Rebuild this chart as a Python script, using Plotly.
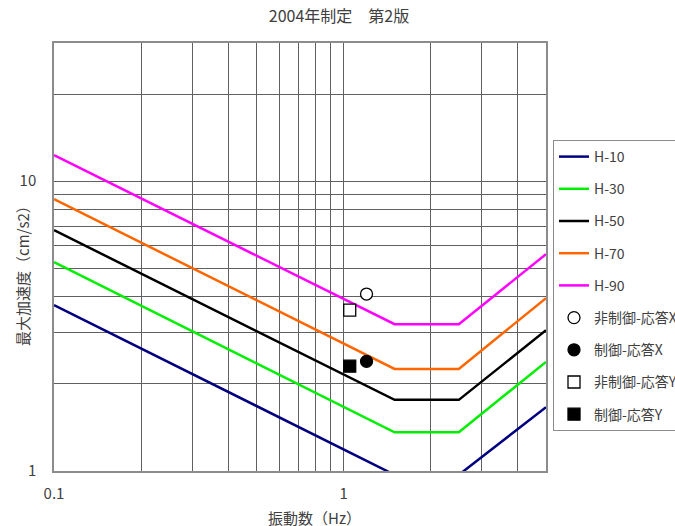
import plotly.graph_objects as go

freq = [0.1, 1.5, 2.5, 5.0]
h10 = [3.74, 0.97, 0.97, 1.66]
h30 = [5.26, 1.36, 1.36, 2.38]
h50 = [6.78, 1.76, 1.76, 3.06]
h70 = [8.67, 2.25, 2.25, 3.95]
h90 = [12.3, 3.21, 3.21, 5.6]

pt_names = ["非制御-応答X", "制御-応答X", "非制御-応答Y", "制御-応答Y"]
pt_freq = [1.20, 1.20, 1.05, 1.05]
pt_acc = [4.08, 2.39, 3.59, 2.30]

x_ticks = [0.1, 0.2, 0.3, 0.4, 0.5, 0.6, 0.7, 0.8, 0.9, 1, 2, 3, 4, 5]
x_text = ["0.1", "", "", "", "", "", "", "", "", "1", "", "", "", ""]
y_ticks = [1, 2, 3, 4, 5, 6, 7, 8, 9, 10, 20, 30]
y_text = ["1", "", "", "", "", "", "", "", "", "10", "", ""]

FONT = "Noto Sans CJK JP"
TXT = "#404040"

fig = go.Figure()
lines = [("H-10", h10, "#000080"), ("H-30", h30, "#00ee00"), ("H-50", h50, "#000000"),
         ("H-70", h70, "#ff6600"), ("H-90", h90, "#ff00ff")]
for nm, vals, col in lines:
    fig.add_trace(go.Scatter(x=freq, y=vals, mode="lines", name=nm, legendgroup=nm,
                             line=dict(color=col, width=2.5)))

symbols = ["circle-open", "circle", "square-open", "square"]
for nm, fx, ay, sym in zip(pt_names, pt_freq, pt_acc, symbols):
    filled = not sym.endswith("open")
    fig.add_trace(go.Scatter(x=[fx], y=[ay], mode="markers", name=nm, legendgroup=nm,
                             marker=dict(symbol="circle" if "circle" in sym else "square",
                                         size=12, color="black" if filled else "white",
                                         line=dict(color="black", width=1.3))))

L, R, T, B = 54, 675 - 546, 43, 526 - 471
PW, PH = 675 - L - R, 526 - T - B

fig.update_layout(
    width=675, height=526,
    margin=dict(l=L, r=R, t=T, b=B, autoexpand=False),
    paper_bgcolor="white", plot_bgcolor="white",
    font=dict(family=FONT, size=15, color=TXT),
    title=dict(text="2004年制定　第2版", x=339 / 675, xanchor="center", y=1 - 16 / 526, yanchor="middle",
               font=dict(family=FONT, size=16, color=TXT)),
    showlegend=True,
    legend=dict(xref="container", yref="container", x=553 / 675, y=1 - 140 / 526,
                xanchor="left", yanchor="top",
                bordercolor="#8c8c8c", borderwidth=1, bgcolor="white", maxheight=330,
                tracegroupgap=11, font=dict(family=FONT, size=14, color=TXT),
                itemwidth=30),
    annotations=[
        dict(text="振動数（Hz）", xref="paper", yref="paper", x=(314 - L) / PW, y=(471 - 517) / PH,
             xanchor="center", yanchor="middle", showarrow=False,
             font=dict(family=FONT, size=15, color=TXT)),
        dict(text="最大加速度（cm/s2）", xref="paper", yref="paper", x=(22 - L) / PW,
             y=(471 - 272) / PH, xanchor="center", yanchor="middle", textangle=-90, showarrow=False,
             font=dict(family=FONT, size=15, color=TXT)),
    ],
)
fig.update_xaxes(type="log", range=[-1, 0.69897], tickvals=x_ticks, ticktext=x_text,
                 showgrid=True, gridcolor="#606060", gridwidth=1,
                 showline=True, linecolor="#8c8c8c", linewidth=1.5, mirror=True,
                 ticks="", zeroline=False, automargin=False, ticklabelstandoff=8,
                 tickfont=dict(family=FONT, size=15, color=TXT))
fig.update_yaxes(type="log", range=[0, 1.4771], tickvals=y_ticks, ticktext=y_text,
                 showgrid=True, gridcolor="#606060", gridwidth=1,
                 showline=True, linecolor="#8c8c8c", linewidth=1.5, mirror=True,
                 ticks="", zeroline=False, automargin=False, ticklabelstandoff=13,
                 tickfont=dict(family=FONT, size=15, color=TXT))

fig.write_html("out.html", config={"displayModeBar": False},
               post_script="document.body.style.margin='0px';")
